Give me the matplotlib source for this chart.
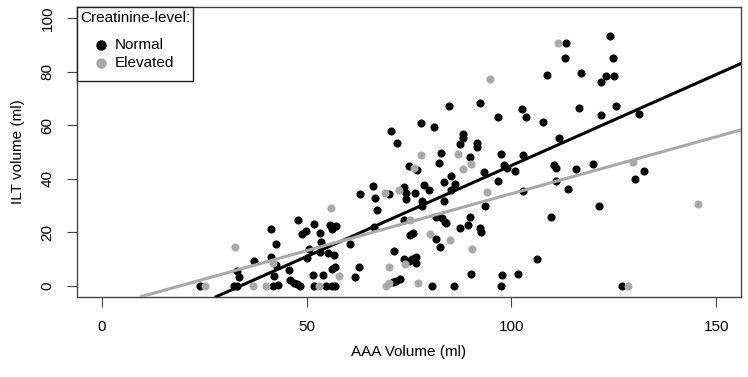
import matplotlib
matplotlib.use("Agg")
import matplotlib.pyplot as plt
from matplotlib.patches import Rectangle

plt.rcParams['font.family'] = ['Liberation Sans', 'DejaVu Sans']

# ---- data ----
normal_x = [41.4, 42.6, 37.1, 41.4, 32.9, 33.4, 42.0, 23.9, 32.3, 33.1, 41.8, 43.1, 42.6,
            82.8, 82.4, 74.9, 77.0, 83.5, 66.3, 73.8, 78.7, 80.0, 63.0, 66.6, 70.1, 74.2,
            74.3, 76.5, 78.1, 78.2, 67.2, 66.4, 73.7, 81.5, 83.1, 83.9, 47.8, 51.9, 49.9,
            48.8, 53.3, 55.7, 57.2, 56.1, 53.6, 60.7, 81.5, 82.6, 50.6, 53.2, 55.2, 56.7,
            50.1, 71.3, 73.8, 75.7, 76.6, 76.6, 74.9, 45.7, 51.5, 54.1, 56.1, 56.9, 62.9,
            61.9, 45.9, 46.8, 47.6, 48.5, 51.9, 54.8, 56.1, 56.9, 71.8, 72.7, 71.2, 80.7,
            75.3, 76.0, 84.7, 78.0, 81.1, 70.6, 72.1, 113.3, 124.2, 113.2, 124.8, 108.6,
            116.9, 121.8, 123.2, 125.0, 92.3, 96.8, 102.5, 103.6, 107.7, 116.4, 121.9,
            125.5, 111.6, 88.1, 88.3, 87.5, 91.5, 91.7, 131.2, 130.2, 132.3, 121.4, 127.1,
            90.0, 97.5, 102.9, 98.3, 98.9, 100.9, 110.3, 110.8, 115.8, 120.0, 93.4, 85.3,
            86.3, 85.2, 96.8, 110.8, 102.9, 113.8, 83.6, 93.6, 109.7, 89.9, 84.1, 89.4,
            87.5, 92.3, 92.5, 106.3, 90.2, 97.8, 101.5, 85.9, 97.5]
normal_y = [21.1, 15.6, 9.4, 10.7, 5.7, 3.5, 3.8, 0.0, 0.0, 0.0, 0.0, 0.4, 8.0,
            49.7, 46.0, 44.7, 43.2, 38.9, 37.3, 37.0, 37.5, 35.8, 34.5, 33.0, 34.5, 34.8,
            32.3, 34.8, 31.8, 29.8, 28.3, 21.9, 24.8, 25.6, 25.2, 24.0, 24.8, 23.1, 20.6,
            19.4, 19.9, 22.7, 22.3, 21.1, 16.5, 15.5, 17.4, 14.7, 13.7, 12.8, 12.2, 11.7,
            10.3, 12.9, 9.9, 9.9, 10.9, 8.7, 9.4, 6.0, 4.1, 4.1, 6.2, 7.2, 7.0,
            3.2, 2.2, 1.2, 0.8, 0.0, 0.0, 0.0, 0.0, 0.0, 2.0, 2.5, 1.6, 0.0,
            18.9, 19.6, 67.1, 60.9, 59.4, 57.8, 53.2, 90.7, 93.4, 85.0, 85.0, 78.8,
            79.3, 76.2, 78.3, 78.3, 68.1, 63.1, 66.0, 63.1, 61.3, 66.5, 63.9,
            67.3, 55.4, 56.9, 55.4, 52.9, 53.4, 51.9, 64.3, 39.8, 43.0, 29.8, 0.0,
            48.0, 49.2, 48.8, 45.2, 43.9, 43.0, 45.2, 44.2, 43.5, 45.5, 42.5, 41.0,
            38.0, 36.0, 39.2, 39.2, 35.5, 36.3, 31.8, 29.8, 25.6, 25.8, 23.4, 22.8,
            21.6, 21.6, 20.1, 10.2, 4.5, 4.0, 4.4, 0.0, 0.0]

elev_x = [32.5, 41.7, 25.1, 37.0, 40.2, 78.0, 76.2, 72.6, 69.2, 55.9, 75.2, 80.2, 74.0,
          70.0, 57.8, 53.0, 69.5, 70.2, 77.3, 111.4, 94.7, 87.0, 90.2, 88.1, 94.1, 84.9,
          90.5, 129.8, 145.6, 128.6]
elev_y = [14.7, 8.4, 0.0, 0.0, 0.0, 48.7, 44.2, 36.0, 34.8, 29.0, 24.6, 19.4, 8.2,
          7.0, 3.7, 0.0, 0.0, 1.2, 1.0, 90.7, 77.4, 49.2, 45.7, 43.5, 35.0, 17.1,
          13.8, 46.2, 30.6, 0.0]

# regression lines: intercept, slope
fit_normal = [-22.95, 0.679]
fit_elev = [-8.07, 0.425]

groups = ["Normal", "Elevated"]
legend_title = "Creatinine-level:"
x_ticks = [0, 50, 100, 150]
y_ticks = [0, 20, 40, 60, 80, 100]

BLACK = "#000000"
GREY = "#A9A9A9"
W, H = 748, 377

fig = plt.figure(figsize=(W / 100, H / 100), dpi=100)
ax = fig.add_axes([77.3 / W, 1 - 296.7 / H, (740.7 - 77.3) / W, (296.7 - 7.3) / H])

ax.scatter(normal_x, normal_y, s=34, color=BLACK, linewidths=0, zorder=3)
ax.scatter(elev_x, elev_y, s=34, color=GREY, linewidths=0, zorder=3)

ax.axline((0, fit_normal[0]), slope=fit_normal[1], color=BLACK, lw=2.2, zorder=4)
ax.axline((0, fit_elev[0]), slope=fit_elev[1], color=GREY, lw=2.2, zorder=4)

ax.set_xlim(-6, 156)
ax.set_ylim(-4, 104)
ax.set_xticks(x_ticks)
ax.set_yticks(y_ticks)
ax.tick_params(direction='out', length=7.5, width=0.8, color='#444444',
               labelsize=11, pad=9)
for lab in ax.get_yticklabels():
    lab.set_rotation(90)
    lab.set_va('center')
for sp in ax.spines.values():
    sp.set_color('#444444')
    sp.set_linewidth(1.0)

ax.set_xlabel("AAA Volume (ml)", fontsize=11, labelpad=8)
ax.set_ylabel("ILT volume (ml)", fontsize=11, labelpad=11)

# manual legend box (figure pixel layout)
def fx(px):
    return px / W

def fy(py):
    return 1 - py / H

fig.patches.append(Rectangle((fx(77.3), fy(81)), fx(193) - fx(77.3), fy(7.3) - fy(81),
                             transform=fig.transFigure, facecolor='white',
                             edgecolor='#222222', linewidth=1.0, zorder=5))
fig.text(fx(80), fy(18), legend_title, fontsize=11, ha='left', va='center', zorder=6)
for i, (g, c) in enumerate(zip(groups, [BLACK, GREY])):
    yy = fy(45 + 18 * i)
    fig.lines.append(plt.Line2D([fx(101)], [yy], marker='o', markersize=6.5, color=c,
                                linestyle='none', transform=fig.transFigure, zorder=6))
    fig.text(fx(115), yy, g, fontsize=11, ha='left', va='center', zorder=6)

fig.savefig("out.png", dpi=100)
